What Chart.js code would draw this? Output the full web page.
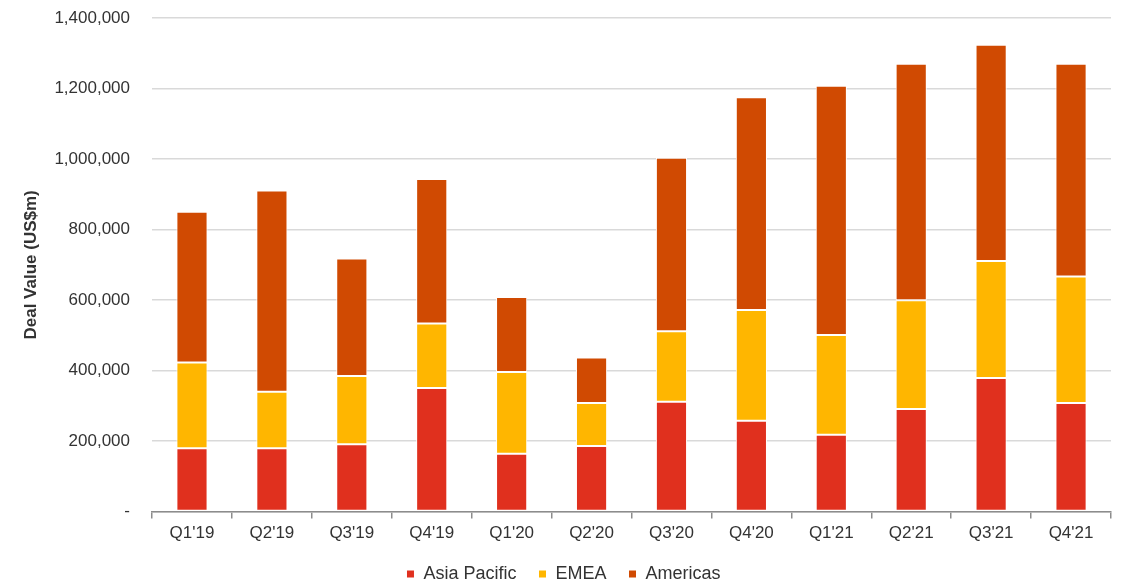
<!DOCTYPE html>
<html>
<head>
<meta charset="utf-8">
<script src="https://cdn.jsdelivr.net/npm/chart.js@4/dist/chart.umd.min.js"></script>
<style>
  html, body { margin: 0; padding: 0; background: #fff; }
  #wrap { width: 1122px; height: 583px; }
</style>
</head>
<body>
<div id="wrap"><canvas id="chart" width="1122" height="583"></canvas></div>
<script>
// quarterly deal value by region (US$m)
const quarters = ["Q1'19", "Q2'19", "Q3'19", "Q4'19", "Q1'20", "Q2'20", "Q3'20", "Q4'20", "Q1'21", "Q2'21", "Q3'21", "Q4'21"]
const asiaPacific = [180000, 180000, 191000, 351000, 164000, 186000, 312000, 258000, 218000, 291000, 379000, 308000]
const emea = [243000, 160000, 194000, 183000, 232000, 122000, 200000, 314000, 283000, 309000, 332000, 359000]
const americas = [428000, 571000, 333000, 410000, 213000, 129000, 492000, 604000, 707000, 671000, 614000, 604000]

const FONT = "'Liberation Sans', Arial, sans-serif"
const TEXT = "#333333"

const bar = (label, data, color) => ({
  label: label,
  data: data,
  backgroundColor: color,
  borderColor: "#ffffff",
  borderWidth: 1,
  borderSkipped: false,
  barPercentage: 0.39,
  categoryPercentage: 1
})

new Chart(document.getElementById("chart"), {
  type: "bar",
  data: {
    labels: quarters,
    datasets: [
      bar("Asia Pacific", asiaPacific, "#E0301E"),
      bar("EMEA", emea, "#FFB600"),
      bar("Americas", americas, "#D04A02")
    ]
  },
  options: {
    responsive: false,
    animation: false,
    layout: { padding: { top: 0, right: 11, left: 16, bottom: -10 } },
    plugins: {
      tooltip: { enabled: false },
      legend: {
        position: "bottom",
        labels: {
          boxWidth: 8,
          boxHeight: 8,
          padding: 22,
          color: TEXT,
          font: { family: FONT, size: 18 }
        }
      }
    },
    scales: {
      x: {
        stacked: true,
        grid: { offset: true, drawOnChartArea: false, drawTicks: true, tickLength: 7, color: "#8c8c8c", lineWidth: 1.5 },
        border: { color: "#8c8c8c", width: 1.5 },
        ticks: { color: TEXT, padding: 5, font: { family: FONT, size: 17 } },
        afterFit: scale => { scale.height -= 6 }
      },
      y: {
        stacked: true,
        min: 0,
        max: 1400000,
        grid: { color: "#d9d9d9", lineWidth: 1.5, drawTicks: true, tickLength: 14, tickColor: "rgba(0,0,0,0)" },
        border: { display: false },
        ticks: {
          stepSize: 200000,
          padding: 8,
          color: TEXT,
          font: { family: FONT, size: 17 },
          callback: v => v === 0 ? "-" : v.toLocaleString("en-US")
        },
        title: {
          display: true,
          text: "Deal Value (US$m)",
          color: TEXT,
          padding: { top: 5, bottom: 5 },
          font: { family: FONT, size: 17, weight: "bold" }
        }
      }
    }
  }
})
</script>
</body>
</html>
